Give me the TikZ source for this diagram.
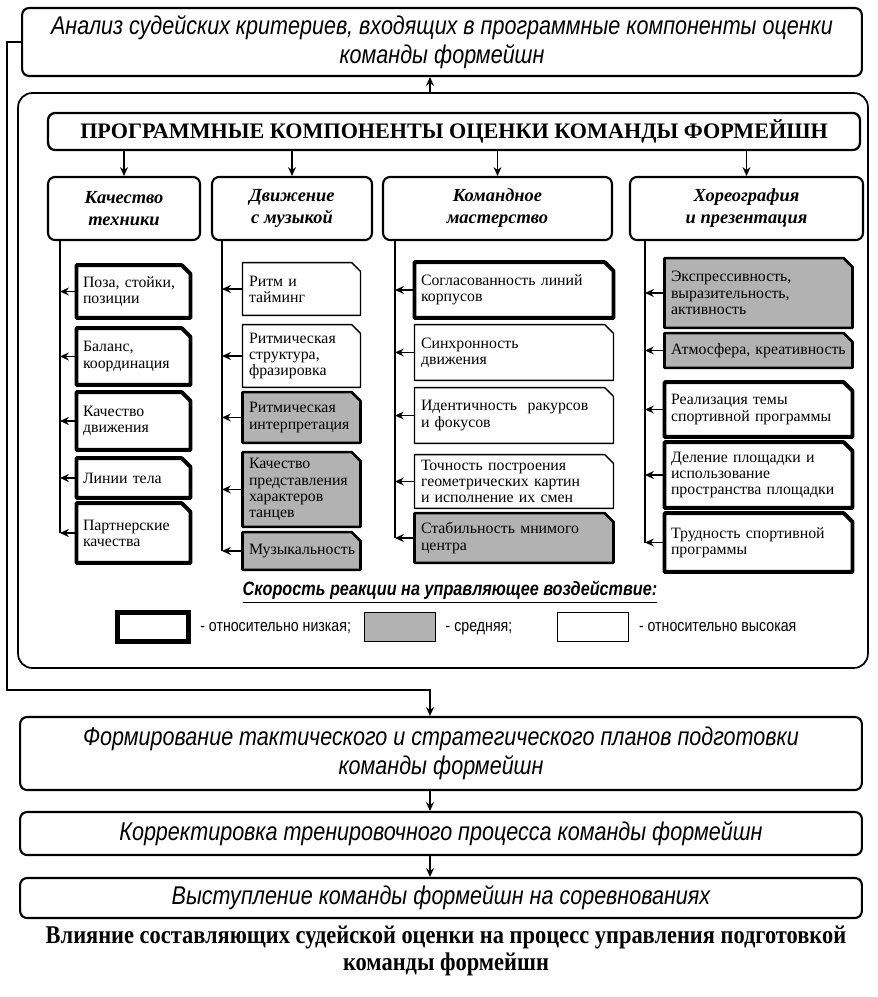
\documentclass[tikz,border=0pt]{standalone}
\usepackage{fontspec}
\setmainfont{Liberation Serif}
\newfontfamily\narrowsans[FakeStretch=0.84]{Liberation Sans}
\newfontfamily\capserif[FakeStretch=0.88]{Liberation Serif}
\usetikzlibrary{positioning,arrows.meta,backgrounds}

\tikzset{
  >={Stealth[length=5pt,width=4.5pt]},
  link/.style={->,line width=1.1pt},
  stagebox/.style={draw,line width=1.2pt,rounded corners=4pt,align=center,
    minimum width=16.84cm,font=\narrowsans\itshape\fontsize{14.6}{16.2}\selectfont},
  frame/.style={draw,line width=1pt,rounded corners=8pt},
  headbox/.style={draw,line width=1.3pt,rounded corners=4pt,
    font=\bfseries\fontsize{12.6}{14}\selectfont},
  catbox/.style={draw,line width=1.2pt,rounded corners=4pt,align=center,
    minimum height=1.26cm,font=\bfseries\itshape\fontsize{10.5}{12.5}\selectfont},
  leaf/.style={rectangle,inner xsep=3.5pt,inner ysep=1pt,align=left,
    font=\fontsize{9}{9.2}\selectfont},
  lowrate/.style={line width=2.2pt,line join=round},
  midrate/.style={line width=1.5pt,line join=round,fill=gray!60},
  highrate/.style={line width=0.8pt,line join=round},
  colA/.style={leaf,minimum width=2.26cm,text width=2.02cm},
  colB/.style={leaf,minimum width=2.34cm,text width=2.1cm},
  colC/.style={leaf,minimum width=3.96cm,text width=3.72cm},
  colD/.style={leaf,minimum width=3.74cm,text width=3.5cm},
  legbox/.style={draw,minimum width=1.42cm,minimum height=0.58cm},
  legtext/.style={font=\narrowsans\fontsize{9.6}{11}\selectfont,text height=7pt,text depth=2pt}
}

\begin{document}
\begin{tikzpicture}[x=0.02cm,y=-0.02cm]
  \useasboundingbox (0,0) rectangle (878,997);

  % stages
  \node[stagebox,minimum width=16.8cm,minimum height=1.36cm] (top) at (442,42)
    {Анализ судейских критериев, входящих в программные компоненты оценки\\команды формейшн};
  \node[frame,minimum width=17cm,minimum height=11.5cm] (prog) at (443,380.5) {};
  \node[stagebox,minimum height=1.46cm] (form) at (441,753.5)
    {Формирование тактического и стратегического планов подготовки\\команды формейшн};
  \node[stagebox,minimum height=0.86cm] (corr) at (441,833.5)
    {Корректировка тренировочного процесса команды формейшн};
  \node[stagebox,minimum height=0.8cm] (perf) at (441,898)
    {Выступление команды формейшн на соревнованиях};
  \node[font=\capserif\bfseries\fontsize{14.5}{15.5}\selectfont,align=center] (cap) at (446,951)
    {Влияние составляющих судейской оценки на процесс управления подготовкой\\команды формейшн};

  % components
  \node[headbox,minimum width=16.24cm,minimum height=0.74cm] (head) at (454,131.5)
    {ПРОГРАММНЫЕ КОМПОНЕНТЫ ОЦЕНКИ КОМАНДЫ ФОРМЕЙШН};
  \node[catbox,minimum width=3.04cm] (ka) at (124,208.5) {Качество\\техники};
  \node[catbox,minimum width=3.2cm] (kb) at (292,208.5) {Движение\\с музыкой};
  \node[catbox,minimum width=4.58cm] (kc) at (497.5,208.5) {Командное\\мастерство};
  \node[catbox,minimum width=4.66cm] (kd) at (746.5,208.5) {Хореография\\и презентация};

  \coordinate (ta) at (60,240);
  \coordinate (tb) at (222,240);
  \coordinate (tc) at (395,240);
  \coordinate (td) at (645,240);

  % criteria
  \node[colA,minimum height=1.04cm] (a1) at (133.5,291.5) {Поза, стойки,\\позиции};
  \node[colA,minimum height=1.12cm] (a2) at (133.5,356.5) {Баланс,\\координация};
  \node[colA,minimum height=1.14cm] (a3) at (133.5,421) {Качество\\движения};
  \node[colA,minimum height=0.78cm] (a4) at (133.5,478) {Линии тела};
  \node[colA,minimum height=1.18cm] (a5) at (133.5,533) {Партнерские\\качества};

  \node[colB,minimum height=1.04cm] (b1) at (301.5,289) {Ритм и\\тайминг};
  \node[colB,minimum height=1.24cm] (b2) at (301.5,356) {Ритмическая\\структура,\\фразировка};
  \node[colB,minimum height=1.0cm] (b3) at (301.5,417.5) {Ритмическая\\интерпретация};
  \node[colB,minimum height=1.48cm] (b4) at (301.5,489.5) {Качество\\представления\\характеров\\танцев};
  \node[colB,minimum height=0.74cm] (b5) at (301.5,551) {Музыкальность};

  \node[colC,minimum height=1.1cm] (c1) at (514,290) {Согласованность линий\\корпусов};
  \node[colC,minimum height=1.1cm] (c2) at (514,352.5) {Синхронность\\движения};
  \node[colC,minimum height=1.1cm] (c3) at (514,415.5) {Идентичность\ \ ракурсов\\и фокусов};
  \node[colC,minimum height=1.06cm] (c4) at (514,481.5) {Точность построения\\геометрических картин\\и исполнение их смен};
  \node[colC,minimum height=0.98cm] (c5) at (514,538) {Стабильность мнимого\\центра};

  \node[colD,minimum height=1.38cm] (d1) at (758.5,293) {Экспрессивность,\\выразительность,\\активность};
  \node[colD,minimum height=0.68cm] (d2) at (758.5,350.5) {Атмосфера, креативность};
  \node[colD,minimum height=1.08cm] (d3) at (758.5,409.5) {Реализация темы\\спортивной программы};
  \node[colD,minimum height=1.3cm] (d4) at (758.5,475) {Деление площадки и\\использование\\пространства площадки};
  \node[colD,minimum height=1.16cm] (d5) at (758.5,542.5) {Трудность спортивной\\программы};

  % cut corner outlines
  \begin{scope}[on background layer]
    \foreach \n/\s in {a1/lowrate,a2/lowrate,a3/lowrate,a4/lowrate,a5/lowrate,
        b1/highrate,b2/highrate,b3/midrate,b4/midrate,b5/midrate,
        c1/lowrate,c2/highrate,c3/highrate,c4/highrate,c5/midrate,
        d1/midrate,d2/midrate,d3/lowrate,d4/lowrate,d5/lowrate}
      \draw[\s] (\n.south west) -- (\n.north west) -- ([xshift=-5pt]\n.north east)
        -- ([yshift=-5pt]\n.north east) -- (\n.south east) -- cycle;
  \end{scope}

  % legend
  \node[font=\narrowsans\bfseries\itshape\fontsize{11}{13}\selectfont] (legtitle) at (450,592)
    {\underline{Скорость реакции на управляющее воздействие:}};
  \node[legbox,line width=2.4pt] (lg1) at (153,627) {};
  \node[legtext,right=2pt of lg1] (lt1) {- относительно низкая;};
  \node[legbox,line width=0.6pt,fill=gray!60] (lg2) at (400,627) {};
  \node[legtext,right=2pt of lg2] (lt2) {- средняя;};
  \node[legbox,line width=0.9pt] (lg3) at (593,627) {};
  \node[legtext,right=2pt of lg3] (lt3) {- относительно высокая};

  % connectors
  \coordinate (fb) at (430,690);
  \draw[link] (prog.north -| fb) -- (top.south -| fb);
  \draw[link] (top.west) -- ++(-14,0) |- (fb) -- (form.north -| fb);
  \draw[link] (form.south -| fb) -- (corr.north -| fb);
  \draw[link] (corr.south -| fb) -- (perf.north -| fb);
  \foreach \c in {a,b,c,d} {
    \draw[link] (head.south -| k\c.north) -- (k\c.north);
    \draw[line width=1pt] (t\c) -- (t\c |- \c5.west);
    \foreach \i in {1,...,5}
      \draw[link,line width=0.9pt] (\c\i.west) -- (\c\i.west -| t\c);
  }
\end{tikzpicture}
\end{document}
